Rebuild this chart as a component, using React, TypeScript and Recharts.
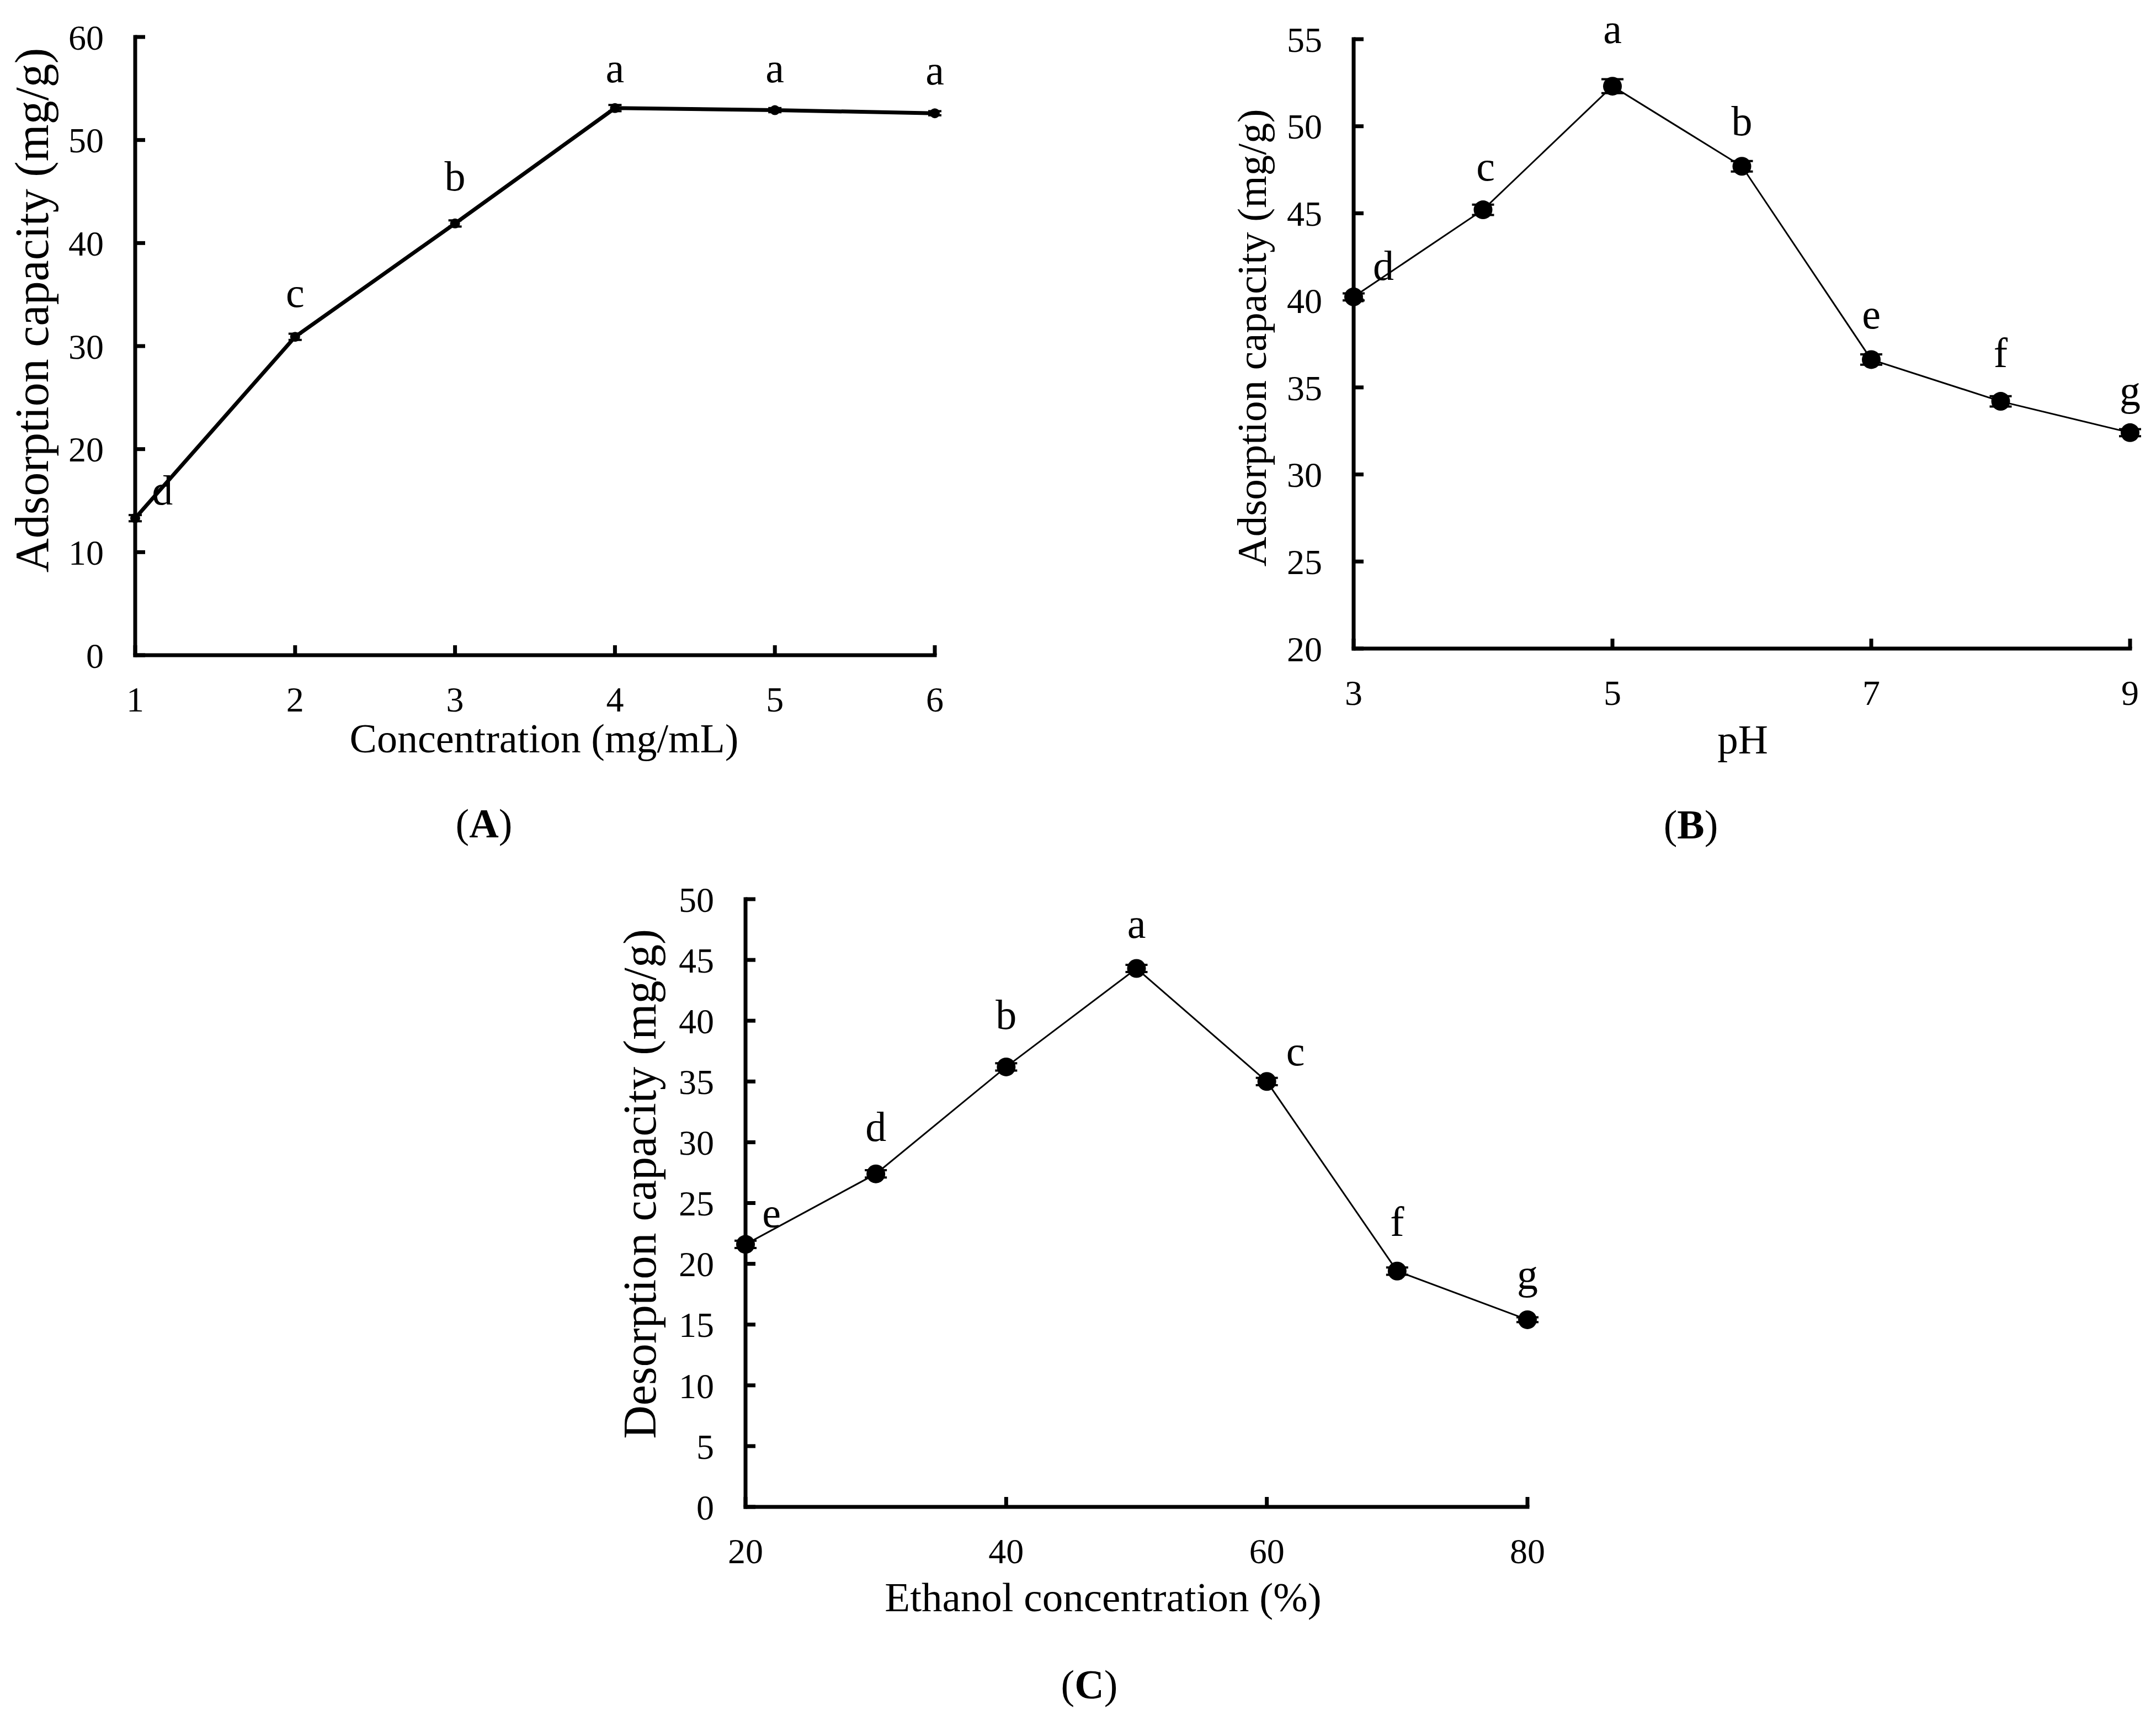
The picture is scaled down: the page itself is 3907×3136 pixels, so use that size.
import {
  ComposedChart,
  Line,
  XAxis,
  YAxis,
  ErrorBar,
  ReferenceDot,
  Label,
} from "recharts";

const PAGE_W = 3907;
const PAGE_H = 3136;
const SERIF = '"Liberation Serif", "Times New Roman", serif';

// (A) adsorption vs concentration
const concX = [1, 2, 3, 4, 5, 6];
const concY = [13.3, 30.9, 41.9, 53.1, 52.9, 52.6];
const concErr = [0.3, 0.3, 0.3, 0.3, 0.2, 0.2];
const concLetters = ["d", "c", "b", "a", "a", "a"];
const concLetterX = [1.17, 2, 3, 4, 5, 6];
const concLetterY = [16.0, 35.2, 46.5, 57.0, 57.0, 56.8];
const concXTicks = [1, 2, 3, 4, 5, 6];
const concYTicks = [0, 10, 20, 30, 40, 50, 60];

// (B) adsorption vs pH
const phX = [3, 4, 5, 6, 7, 8, 9];
const phY = [40.2, 45.2, 52.3, 47.7, 36.6, 34.2, 32.4];
const phErr = [0.2, 0.3, 0.4, 0.3, 0.3, 0.3, 0.2];
const phLetters = ["d", "c", "a", "b", "e", "f", "g"];
const phLetterX = [3.23, 4.02, 5, 6, 7, 8, 9];
const phLetterY = [42.0, 47.7, 55.6, 50.3, 39.2, 37.0, 34.8];
const phXTicks = [3, 5, 7, 9];
const phYTicks = [20, 25, 30, 35, 40, 45, 50, 55];

// (C) desorption vs ethanol
const ethX = [20, 30, 40, 50, 60, 70, 80];
const ethY = [21.6, 27.4, 36.2, 44.3, 35.0, 19.4, 15.4];
const ethErr = [0.3, 0.3, 0.3, 0.3, 0.3, 0.3, 0.2];
const ethLetters = ["e", "d", "b", "a", "c", "f", "g"];
const ethLetterX = [22.0, 30, 40, 50, 62.2, 70, 80];
const ethLetterY = [24.2, 31.3, 40.5, 48.0, 37.5, 23.5, 19.1];
const ethXTicks = [20, 40, 60, 80];
const ethYTicks = [0, 5, 10, 15, 20, 25, 30, 35, 40, 45, 50];

const AXIS = { stroke: "#000", strokeWidth: 7 };
const TICK = { fontSize: 64, fontFamily: SERIF, fill: "#000" };

type Layout = {
  plot: { left: number; top: number; right: number; bottom: number };
  yTitle: { x: number; y: number; size: number };
  xTitle: { x: number; y: number; size: number };
  tag: { x: number; y: number };
  lineWidth: number;
  dotR: number;
  capW: number;
  letterSize: number;
};

const layoutA: Layout = {
  plot: { left: 245, top: 67, right: 1694, bottom: 1187 },
  yTitle: { x: 58, y: 562, size: 86 },
  xTitle: { x: 986, y: 1338, size: 74 },
  tag: { x: 877, y: 1492 },
  lineWidth: 7,
  dotR: 9,
  capW: 12,
  letterSize: 76,
};

const layoutB: Layout = {
  plot: { left: 2453, top: 71, right: 3860, bottom: 1175 },
  yTitle: { x: 2268, y: 612, size: 75 },
  xTitle: { x: 3158, y: 1339, size: 75 },
  tag: { x: 3064, y: 1494 },
  lineWidth: 3,
  dotR: 17,
  capW: 20,
  letterSize: 76,
};

const layoutC: Layout = {
  plot: { left: 1351, top: 1629, right: 2768, bottom: 2730 },
  yTitle: { x: 1159, y: 2145, size: 84 },
  xTitle: { x: 1999, y: 2893, size: 75 },
  tag: { x: 1974, y: 3052 },
  lineWidth: 3,
  dotR: 17,
  capW: 20,
  letterSize: 76,
};

type PanelProps = {
  xs: number[];
  ys: number[];
  errs: number[];
  letters: string[];
  letterX: number[];
  letterY: number[];
  xTicks: number[];
  yTicks: number[];
  xLabel: string;
  yLabel: string;
  tag: string;
  lay: Layout;
};

function Panel({
  xs,
  ys,
  errs,
  letters,
  letterX,
  letterY,
  xTicks,
  yTicks,
  xLabel,
  yLabel,
  tag,
  lay,
}: PanelProps) {
  const data = xs.map((x, i) => ({ x, y: ys[i], err: errs[i] }));
  const { plot } = lay;
  const xAxisH = 200;

  return (
    <div style={{ position: "absolute", left: 0, top: 0 }}>
      <ComposedChart
        width={PAGE_W}
        height={PAGE_H}
        data={data}
        margin={{
          top: plot.top,
          left: 0,
          right: PAGE_W - plot.right,
          bottom: PAGE_H - plot.bottom - xAxisH,
        }}
      >
        <XAxis
          type="number"
          dataKey="x"
          domain={[xTicks[0], xTicks[xTicks.length - 1]]}
          ticks={xTicks}
          interval={0}
          height={xAxisH}
          axisLine={{ ...AXIS, strokeLinecap: "square" }}
          tickLine={AXIS}
          tickSize={-18}
          tickMargin={75}
          tick={TICK}
        >
          <Label
            content={() => (
              <text
                x={lay.xTitle.x}
                y={lay.xTitle.y}
                textAnchor="middle"
                dominantBaseline="central"
                fontFamily={SERIF}
                fontSize={lay.xTitle.size}
                fill="#000"
              >
                {xLabel}
              </text>
            )}
          />
          <Label
            content={() => (
              <text
                x={lay.tag.x}
                y={lay.tag.y}
                textAnchor="middle"
                dominantBaseline="central"
                fontFamily={SERIF}
                fontSize={74}
                fill="#000"
              >
                (<tspan fontWeight="bold">{tag}</tspan>)
              </text>
            )}
          />
        </XAxis>
        <YAxis
          type="number"
          domain={[yTicks[0], yTicks[yTicks.length - 1]]}
          ticks={yTicks}
          interval={0}
          width={plot.left}
          axisLine={{ ...AXIS, strokeLinecap: "square" }}
          tickLine={AXIS}
          tickSize={-18}
          tickMargin={75}
          tick={TICK}
        >
          <Label
            content={() => (
              <text
                x={lay.yTitle.x}
                y={lay.yTitle.y}
                transform={`rotate(-90 ${lay.yTitle.x} ${lay.yTitle.y})`}
                textAnchor="middle"
                dominantBaseline="central"
                fontFamily={SERIF}
                fontSize={lay.yTitle.size}
                fill="#000"
              >
                {yLabel}
              </text>
            )}
          />
        </YAxis>
        <Line
          type="linear"
          dataKey="y"
          stroke="#000"
          strokeWidth={lay.lineWidth}
          dot={{ r: lay.dotR, fill: "#000", stroke: "#000", strokeWidth: 0 }}
          activeDot={false}
          isAnimationActive={false}
        >
          <ErrorBar
            dataKey="err"
            width={lay.capW}
            stroke="#000"
            strokeWidth={4}
            isAnimationActive={false}
          />
        </Line>
        {letters.map((letter, i) => (
          <ReferenceDot
            key={`${tag}-${i}`}
            x={letterX[i]}
            y={letterY[i]}
            r={0}
            ifOverflow="visible"
            shape={(p: any) => (
              <text
                x={p.cx}
                y={p.cy}
                textAnchor="middle"
                dominantBaseline="central"
                fontFamily={SERIF}
                fontSize={lay.letterSize}
                fill="#000"
              >
                {letter}
              </text>
            )}
          />
        ))}
      </ComposedChart>
    </div>
  );
}

export default function App() {
  return (
    <div
      style={{
        position: "absolute",
        left: 0,
        top: 0,
        width: PAGE_W,
        height: PAGE_H,
        background: "#fff",
      }}
    >
      <Panel
        xs={concX}
        ys={concY}
        errs={concErr}
        letters={concLetters}
        letterX={concLetterX}
        letterY={concLetterY}
        xTicks={concXTicks}
        yTicks={concYTicks}
        xLabel="Concentration (mg/mL)"
        yLabel="Adsorption capacity (mg/g)"
        tag="A"
        lay={layoutA}
      />
      <Panel
        xs={phX}
        ys={phY}
        errs={phErr}
        letters={phLetters}
        letterX={phLetterX}
        letterY={phLetterY}
        xTicks={phXTicks}
        yTicks={phYTicks}
        xLabel="pH"
        yLabel="Adsorption capacity (mg/g)"
        tag="B"
        lay={layoutB}
      />
      <Panel
        xs={ethX}
        ys={ethY}
        errs={ethErr}
        letters={ethLetters}
        letterX={ethLetterX}
        letterY={ethLetterY}
        xTicks={ethXTicks}
        yTicks={ethYTicks}
        xLabel="Ethanol concentration (%)"
        yLabel="Desorption capacity (mg/g)"
        tag="C"
        lay={layoutC}
      />
    </div>
  );
}
